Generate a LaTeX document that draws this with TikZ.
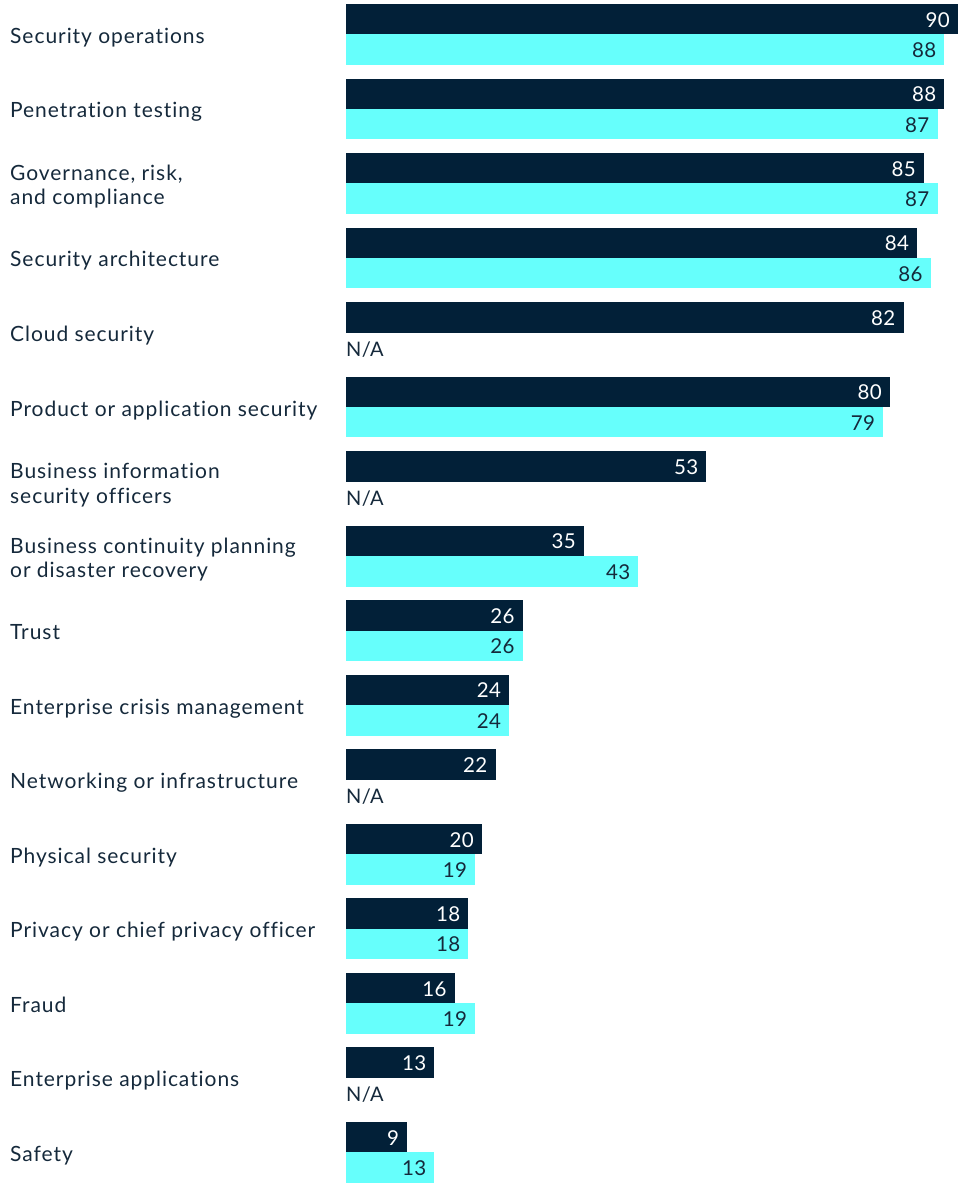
\documentclass[tikz,border=0pt]{standalone}
\usepackage{fontspec}
\setmainfont{Lato}
\newfontfamily\lblfont[LetterSpace=4.5,Ligatures=NoCommon]{Lato}
\newfontfamily\numfont[LetterSpace=2]{Lato}
\definecolor{navy}{HTML}{022038}
\definecolor{aqua}{HTML}{66FFFC}
\definecolor{txt}{HTML}{15293B}
\tikzset{
  darkbar/.style={fill=navy},
  aquabar/.style={fill=aqua},
  lbl/.style={anchor=base west, inner sep=0pt, text=txt, font=\lblfont\fontsize{21}{24.5}\selectfont, align=left},
  valw/.style={anchor=base east, inner sep=0pt, text=white, font=\numfont\fontsize{20.5}{24}\selectfont},
  vald/.style={anchor=base east, inner sep=0pt, text=txt, font=\numfont\fontsize{20.5}{24}\selectfont},
  nalbl/.style={anchor=base west, inner sep=0pt, text=txt, font=\numfont\fontsize{20}{24}\selectfont},
}
\newcommand\chartrow[5]{%
  % #1 index, #2 label, #3 label baseline offset (last line), #4 dark value, #5 aqua value (-1 = N/A)
  \pgfmathsetmacro\ytop{4+#1*74.53}
  \pgfmathsetmacro\ymid{\ytop+30.4}
  \fill[darkbar] (346,\ytop) rectangle ({346+6.8*#4},{\ytop+30.4});
  \node[valw] (d#1) at ({346+6.8*#4-8},{\ytop+15.2+8}) {#4};
  \ifnum#5<0
    \node[nalbl] (c#1) at (346,{\ytop+45.6+8.5}) {N/A};
  \else
    \fill[aquabar] (346,{\ytop+30.4}) rectangle ({346+6.8*#5},{\ytop+60.8});
    \node[vald] (c#1) at ({346+6.8*#5-8},{\ytop+45.6+8}) {#5};
  \fi
  \node[lbl] (l#1) at (10,{\ymid+#3}) {#2};
}
\begin{document}
\begin{tikzpicture}[x=1pt,y=-1pt]
\useasboundingbox (0,0) rectangle (968,1184);
\chartrow{0}{Security operations}{9}{90}{88}
\chartrow{1}{Penetration testing}{9}{88}{87}
\chartrow{2}{Governance, risk,\\and compliance}{21.5}{85}{87}
\chartrow{3}{Security architecture}{9}{84}{86}
\chartrow{4}{Cloud security}{9}{82}{-1}
\chartrow{5}{Product or application security}{9}{80}{79}
\chartrow{6}{Business information\\security officers}{21.5}{53}{-1}
\chartrow{7}{Business continuity planning\\or disaster recovery}{21.5}{35}{43}
\chartrow{8}{Trust}{9}{26}{26}
\chartrow{9}{Enterprise crisis management}{9}{24}{24}
\chartrow{10}{Networking or infrastructure}{9}{22}{-1}
\chartrow{11}{Physical security}{9}{20}{19}
\chartrow{12}{Privacy or chief privacy officer}{9}{18}{18}
\chartrow{13}{Fraud}{9}{16}{19}
\chartrow{14}{Enterprise applications}{9}{13}{-1}
\chartrow{15}{Safety}{9}{9}{13}
\end{tikzpicture}
\end{document}
